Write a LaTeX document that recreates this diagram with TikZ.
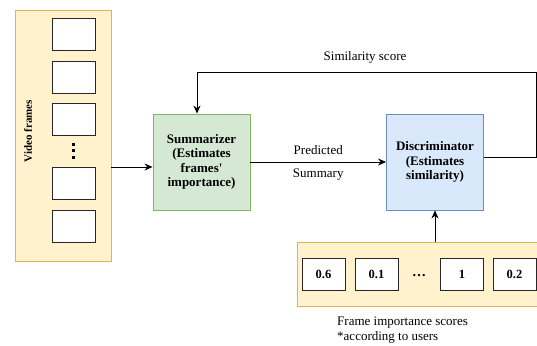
\documentclass[tikz,border=0pt]{standalone}
\usepackage{fontspec}
\setmainfont{Liberation Serif}
\usetikzlibrary{arrows.meta,calc}
\definecolor{ylfill}{HTML}{FFF2CC}
\definecolor{yldraw}{HTML}{D6B656}
\definecolor{grfill}{HTML}{D5E8D4}
\definecolor{grdraw}{HTML}{82B366}
\definecolor{blfill}{HTML}{DAE8FC}
\definecolor{bldraw}{HTML}{6C8EBF}
\tikzset{
  frame/.style={draw=black!85, fill=white, line width=0.9pt, minimum width=43pt, minimum height=32pt, inner sep=0pt},
  holder/.style={draw=yldraw, fill=ylfill, line width=0.8pt, inner sep=0pt},
  proc/.style={line width=0.9pt, minimum width=97pt, minimum height=96pt, align=center, inner sep=0pt,
    font=\bfseries\fontsize{13}{14.5}\selectfont},
  arr/.style={-{Stealth[length=8pt,width=7pt]}, line width=0.8pt, black},
  lbl/.style={font=\fontsize{13}{15}\selectfont, inner sep=0pt},
  score/.style={frame, font=\bfseries\fontsize{12.5}{14}\selectfont},
  dotmark/.style={rectangle, fill=black, inner sep=0pt, minimum size=3pt}
}
\begin{document}
\begin{tikzpicture}[x=1pt,y=-1pt]
\clip (0,0) rectangle (537,345);
\fill[white] (0,0) rectangle (537,345);
% video frames
\node[holder, minimum width=96pt, minimum height=251pt] (vid) at (63,135.5) {};
\node[rotate=90, font=\bfseries\fontsize{11}{13}\selectfont, inner sep=0pt] (vidlbl) at (28,131) {Video frames};
\node[frame] (f1) at (73.5,34.5) {};
\node[frame] (f2) at (73.5,77) {};
\node[frame] (f3) at (73.5,119.5) {};
\node[dotmark] (d1) at (73.5,144) {};
\node[dotmark] (d2) at (73.5,150.5) {};
\node[dotmark] (d3) at (73.5,157) {};
\node[frame] (f4) at (73.5,183.5) {};
\node[frame] (f5) at (73.5,226) {};
% processing boxes
\node[proc, draw=grdraw, fill=grfill] (summ) at (201.5,162) {Summarizer\\(Estimates\\frames\textquotesingle\\importance)};
\node[proc, draw=bldraw, fill=blfill] (disc) at (435,162) {Discriminator\\(Estimates\\similarity)};
% scores
\node[holder, minimum width=243pt, minimum height=64pt] (scores) at (418.5,274) {};
\node[score] (s1) at (323.5,274) {0.6};
\node[score] (s2) at (376.5,274) {0.1};
\node[inner sep=0pt, font=\bfseries\fontsize{14}{14}\selectfont] (sdots) at (419,276) {\ldots};
\node[score] (s3) at (462,274) {1};
\node[score] (s4) at (514.5,274) {0.2};
\node[lbl, align=left, anchor=west] (scl) at (337,330) {Frame importance scores\\*according to users};
% connectors
\draw[arr] (vid.east |- 0,167) -- (summ.west |- 0,167);
\draw[arr] (summ.east) -- node[lbl, above=6.5pt] (pl) {Predicted} node[lbl, below=6.5pt] (sl) {Summary} (disc.west);
\coordinate (c1) at (536,157);
\coordinate (c2) at (536,72);
\coordinate (c3) at (197,72);
\draw[arr] (disc.east |- c1) -- (c1) -- (c2) -- (c3) -- (c3 |- summ.north);
\node[lbl] (simlbl) at (365,57) {Similarity score};
\draw[arr] (scores.north -| disc.south) -- (disc.south);
\end{tikzpicture}
\end{document}
